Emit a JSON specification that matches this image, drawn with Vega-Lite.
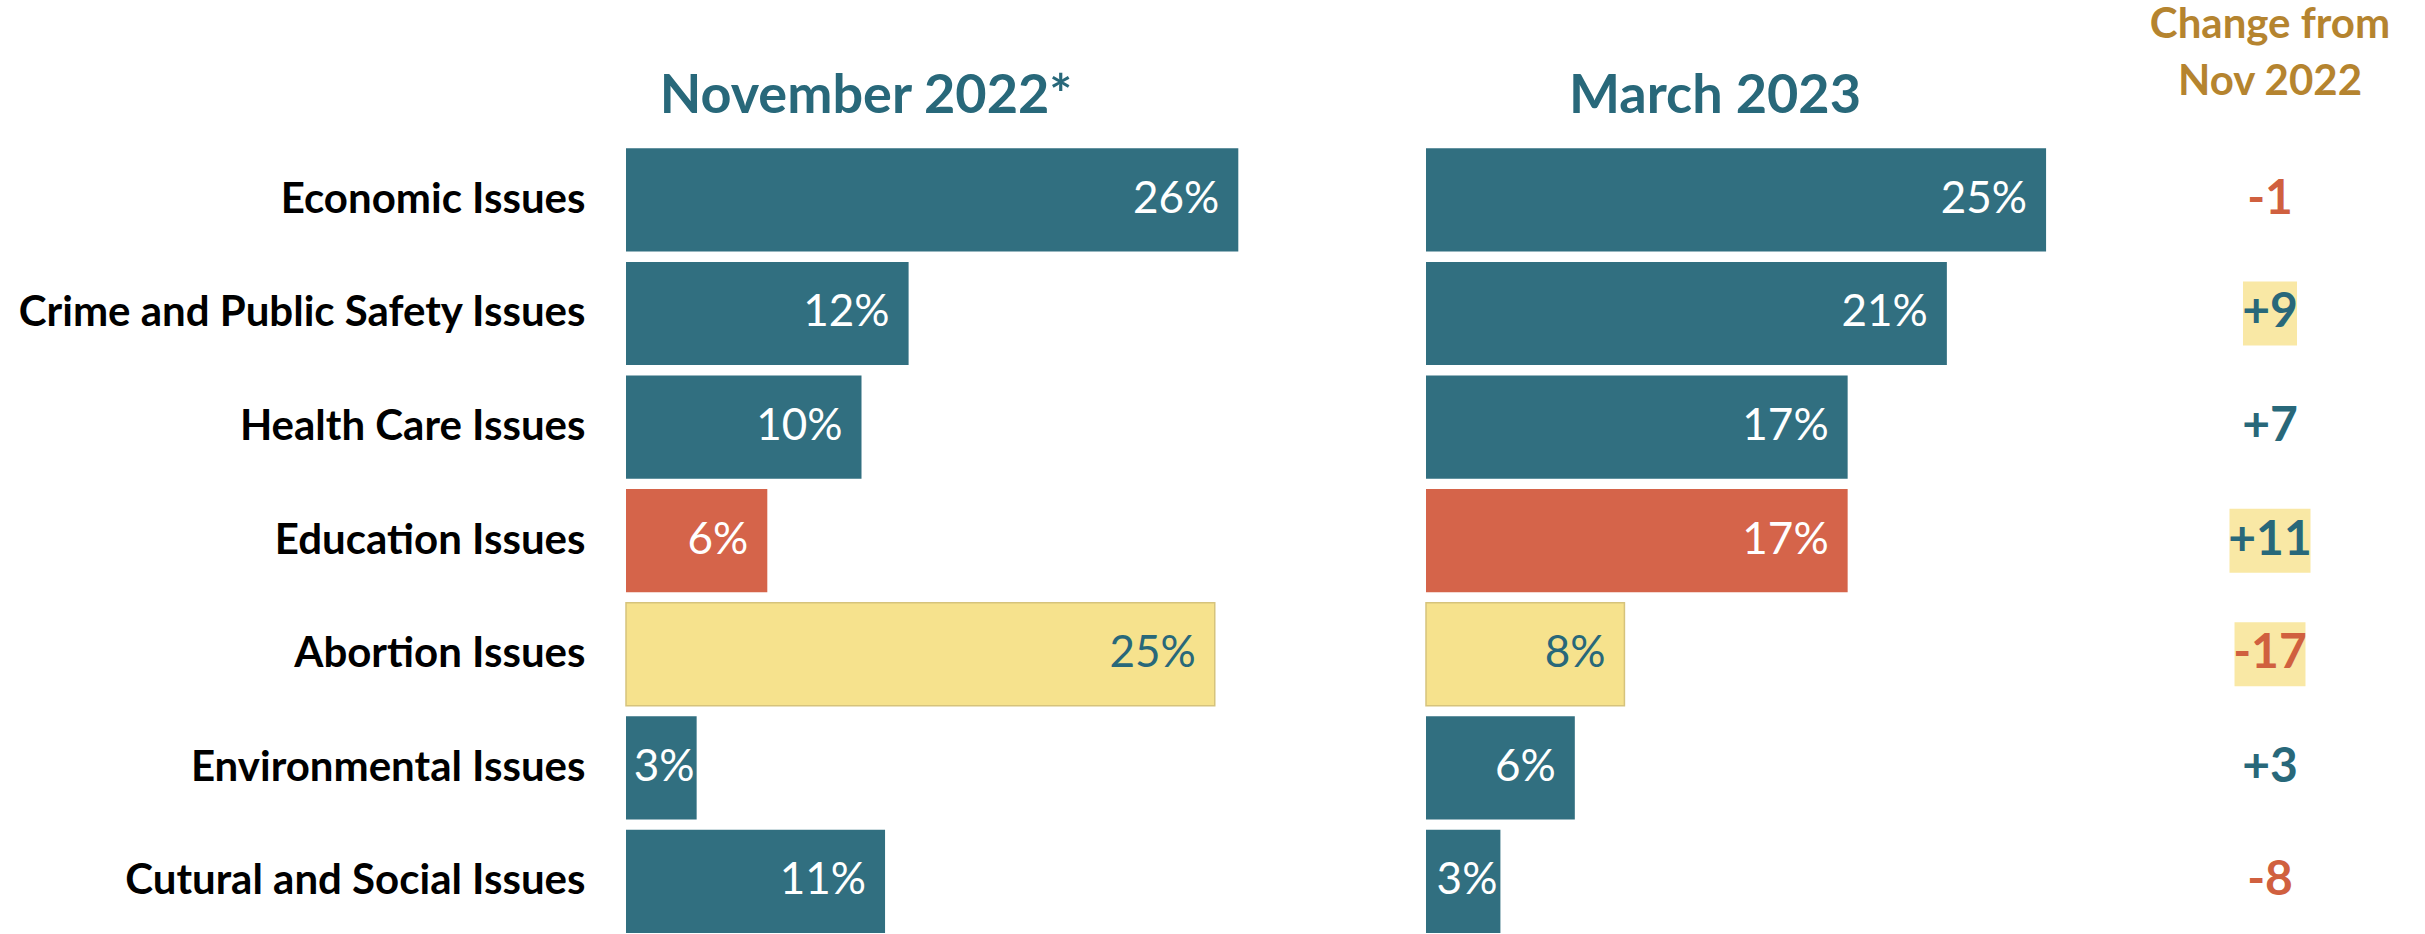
{
  "$schema": "https://vega.github.io/schema/vega-lite/v6.json",
  "padding": {"top": 4, "left": 0, "right": 0, "bottom": 0},
  "background": "white",
  "spacing": 0,
  "bounds": "flush",
  "config": {"view": {"stroke": null}, "font": "Lato", "axis": {"grid": false}},
  "data": {"values": [
    {"issue": "Economic Issues", "nov": 0.26, "mar": 0.25, "change": -1, "changeText": "-1"},
    {"issue": "Crime and Public Safety Issues", "nov": 0.12, "mar": 0.21, "change": 9, "changeText": "+9"},
    {"issue": "Health Care Issues", "nov": 0.10, "mar": 0.17, "change": 7, "changeText": "+7"},
    {"issue": "Education Issues", "nov": 0.06, "mar": 0.17, "change": 11, "changeText": "+11"},
    {"issue": "Abortion Issues", "nov": 0.25, "mar": 0.08, "change": -17, "changeText": "-17"},
    {"issue": "Environmental Issues", "nov": 0.03, "mar": 0.06, "change": 3, "changeText": "+3"},
    {"issue": "Cutural and Social Issues", "nov": 0.11, "mar": 0.03, "change": -8, "changeText": "-8"}
  ]},
  "hconcat": [
    {
      "width": 800,
      "height": 790,
      "title": {"text": "November 2022*", "font": "Lato", "fontSize": 54, "fontWeight": "bold", "color": "#28687A", "anchor": "middle", "dx": -160, "baseline": "bottom", "offset": -35},
      "encoding": {
        "y": {"field": "issue", "type": "nominal", "sort": null,
          "scale": {"type": "band", "domain": ["Economic Issues", "Crime and Public Safety Issues", "Health Care Issues", "Education Issues", "Abortion Issues", "Environmental Issues", "Cutural and Social Issues"], "paddingInner": 0.092, "paddingOuter": 0.0235, "align": 1},
          "axis": {"title": null, "ticks": false, "domain": false, "labelFont": "Lato", "labelFontSize": 42, "labelFontWeight": "bold", "labelColor": "#000000", "labelPadding": 41, "labelLimit": 0, "minExtent": 626, "maxExtent": 626}}
      },
      "layer": [
        {
          "mark": {"type": "bar", "stroke": "#D6C37C"},
          "encoding": {
            "x": {"field": "nov", "type": "quantitative", "scale": {"domain": [0, 0.3397], "nice": false}, "axis": null},
            "color": {"condition": [{"test": "datum.issue === 'Education Issues'", "value": "#D5644A"}, {"test": "datum.issue === 'Abortion Issues'", "value": "#F6E28D"}], "value": "#316F80"},
            "strokeWidth": {"condition": {"test": "datum.issue === 'Abortion Issues'", "value": 1.5}, "value": 0}
          }
        },
        {
          "transform": [{"filter": "datum.nov > 0.04"}],
          "mark": {"type": "text", "align": "right", "baseline": "middle", "dx": -19, "fontSize": 44, "font": "Lato"},
          "encoding": {
            "x": {"field": "nov", "type": "quantitative"},
            "text": {"field": "nov", "type": "quantitative", "format": ".0%"},
            "color": {"condition": {"test": "datum.issue === 'Abortion Issues'", "value": "#28687A"}, "value": "#FFFFFF"}
          }
        },
        {
          "transform": [{"filter": "datum.nov <= 0.04"}],
          "mark": {"type": "text", "align": "right", "baseline": "middle", "dx": -2, "fontSize": 44, "font": "Lato", "color": "#FFFFFF"},
          "encoding": {
            "x": {"field": "nov", "type": "quantitative"},
            "text": {"field": "nov", "type": "quantitative", "format": ".0%"}
          }
        }
      ]
    },
    {
      "width": 724,
      "height": 790,
      "title": {"text": "March 2023", "font": "Lato", "fontSize": 54, "fontWeight": "bold", "color": "#28687A", "anchor": "middle", "dx": -73, "baseline": "bottom", "offset": -35},
      "encoding": {
        "y": {"field": "issue", "type": "nominal", "sort": null,
          "scale": {"type": "band", "domain": ["Economic Issues", "Crime and Public Safety Issues", "Health Care Issues", "Education Issues", "Abortion Issues", "Environmental Issues", "Cutural and Social Issues"], "paddingInner": 0.092, "paddingOuter": 0.0235, "align": 1},
          "axis": null}
      },
      "layer": [
        {
          "mark": {"type": "bar", "stroke": "#D6C37C"},
          "encoding": {
            "x": {"field": "mar", "type": "quantitative", "scale": {"domain": [0, 0.2919], "nice": false}, "axis": null},
            "color": {"condition": [{"test": "datum.issue === 'Education Issues'", "value": "#D5644A"}, {"test": "datum.issue === 'Abortion Issues'", "value": "#F6E28D"}], "value": "#316F80"},
            "strokeWidth": {"condition": {"test": "datum.issue === 'Abortion Issues'", "value": 1.5}, "value": 0}
          }
        },
        {
          "transform": [{"filter": "datum.mar > 0.04"}],
          "mark": {"type": "text", "align": "right", "baseline": "middle", "dx": -19, "fontSize": 44, "font": "Lato"},
          "encoding": {
            "x": {"field": "mar", "type": "quantitative"},
            "text": {"field": "mar", "type": "quantitative", "format": ".0%"},
            "color": {"condition": {"test": "datum.issue === 'Abortion Issues'", "value": "#28687A"}, "value": "#FFFFFF"}
          }
        },
        {
          "transform": [{"filter": "datum.mar <= 0.04"}],
          "mark": {"type": "text", "align": "right", "baseline": "middle", "dx": -3, "fontSize": 44, "font": "Lato", "color": "#FFFFFF"},
          "encoding": {
            "x": {"field": "mar", "type": "quantitative"},
            "text": {"field": "mar", "type": "quantitative", "format": ".0%"}
          }
        }
      ]
    },
    {
      "width": 240,
      "height": 790,
      "title": {"text": ["Change from", "Nov 2022"], "font": "Lato", "fontSize": 42, "lineHeight": 57, "fontWeight": "bold", "color": "#B5842F", "anchor": "middle", "baseline": "bottom", "offset": -3},
      "encoding": {
        "y": {"field": "issue", "type": "nominal", "sort": null,
          "scale": {"type": "band", "domain": ["Economic Issues", "Crime and Public Safety Issues", "Health Care Issues", "Education Issues", "Abortion Issues", "Environmental Issues", "Cutural and Social Issues"], "paddingInner": 0.092, "paddingOuter": 0.0235, "align": 1},
          "axis": null}
      },
      "layer": [
        {
          "transform": [{"filter": {"field": "issue", "oneOf": ["Crime and Public Safety Issues", "Education Issues", "Abortion Issues"]}}],
          "mark": {"type": "point", "filled": true, "opacity": 1, "size": 4096, "color": "#F9E8A5", "strokeWidth": 0},
          "encoding": {
            "shape": {"field": "issue", "type": "nominal", "legend": null,
              "scale": {"domain": ["Crime and Public Safety Issues", "Education Issues", "Abortion Issues"],
                "range": ["M-0.844,-1H0.844V1H-0.844Z", "M-1.266,-1H1.266V1H-1.266Z", "M-1.109,-1H1.109V1H-1.109Z"]}}
          }
        },
        {
          "mark": {"type": "text", "baseline": "middle", "align": "center", "fontSize": 48, "fontWeight": "bold", "font": "Lato"},
          "encoding": {
            "text": {"field": "changeText", "type": "nominal"},
            "color": {"condition": {"test": "datum.change < 0", "value": "#D0603F"}, "value": "#28687A"}
          }
        }
      ]
    }
  ]
}
